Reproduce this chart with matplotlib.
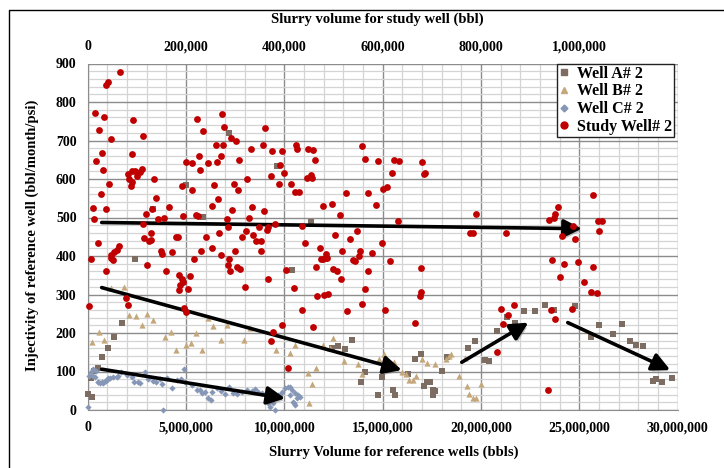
import matplotlib
matplotlib.use("Agg")
import matplotlib.pyplot as plt
import matplotlib.patheffects as pe
from matplotlib.ticker import MultipleLocator, FuncFormatter, FixedLocator
from matplotlib.lines import Line2D
import numpy as np

# ---------------- data ----------------
# Study well: x on top axis (thousand bbl), y injectivity
study_x_k = [65.7,36.6,40.7,14.9,33.8,92.8,23.6,47.4,111.9,29.1,16.3,90.7,31.1,43.3,27.1,11.4,12.2,37.8,82.6,89.5,
             96.2,106.4,111.1,84.6,100.9,88.1,90.7,134.9,138.4,130.2,118,142.4,155.2,165.4,113.1,128.8,115.2,179,191.3,200,
             212.8,228.5,226.4,221.8,235.2,273.9,277.9,291,301.1,260.4,275.9,271.2,245.4,262.5,212.2,257,265.1,252.9,219.7,225,
             193.3,282.8,294.2,297.1,306.4,308.4,324.7,331.6,356,361.3,375.6,394.7,372.3,389.8,398.8,333.7,358.7,328.8,284.8,267.8,
             240.7,313.3,322.1,336.9,349.1,364.8,367.5,381.1,
             21.6,6.7,47.4,54.1,59,64.3,50.9,46.8,37.2,124.7,128.2,120.7,148.5,151.8,171.5,158.7,183.1,185.1,191.3,194.5,
             187.8,186.4,204.7,208.7,215.7,229.9,253.5,270.6,288.1,286.1,288.9,299.7,303.8,310.5,342.4,352.6,352,320,367.5,2.6,
             77.3,81.4,196.5,200,395.3,372.3,377,
             408.1,420.3,403.5,435.4,459,467.2,480.8,489.5,527,558.7,564.2,604.9,615.1,442.1,472.6,484.8,486.3,474,479.3,503.2,
             533.7,518,554,552,539.2,543.8,577.8,598.8,464.5,498.5,506.6,570.3,516,677.5,677.5,676.1,665.9,
             423.8,426.5,448.8,459,462.5,391.3,413.6,421.8,430.5,445.6,453.7,457,525.5,479.4,496.4,513.3,557.5,564.2,569.7,586.6,
             590.7,619.7,601.4,609.6,623.8,634,679.6,684.3,686.9,631.3,790,777.8,783.3,435.4,548.5,
             1028.7,956.3,950.8,948.1,938.6,850.5,965.6,988,1037.6,1045.8,1040.3,991.5,
             944.7,968.5,998.2,1027.5,961.6,1010.2,1023.6,1035.6,839.9,866.9,854.7,844.6,833.4,942,950.4,986,935.9]
study_y = [879,845,851,772,760.6,752.8,727.9,704.6,711.4,667.1,646.4,664.5,623.2,587.9,561,523.9,495.3,523.1,612,620.6,
           620.6,618,626.8,600.9,606.8,581.7,592,600.9,551.6,523.1,508.3,496.1,499.7,526.5,482.4,459.8,446.8,448.7,581.7,644,
           641.3,623.2,660.5,755.4,724.3,768.4,734.7,705.4,698.4,688,687.2,660.5,642.4,643.2,570.5,585.3,548,529.8,507.5,503.9,
           503.1,495.3,519.4,586.1,571.3,648.3,599,677.6,689,732.1,671.7,671.7,607.6,586.9,615.4,527.2,517.9,499.7,474.6,460.9,
           449.4,449.4,465,453.8,476.4,466.8,475.4,484.2,
           434.9,393.4,403.8,410.5,414.9,425.3,389,395,360.5,438.3,442.7,376,412.3,406.4,409.8,360.5,449.4,351.9,341.5,331.2,
           324.2,310.4,313,349.3,391.6,412.3,420.1,403.8,393.4,376.8,361.3,412.3,371.6,366.4,438.3,438.3,412.3,318.2,339,269.7,
           289.7,272.3,265.3,253.4,220.4,178.9,203.6,
           108.1,317.2,364.9,259.3,214.5,296.4,298.2,300.8,256.7,274.1,314.6,259.3,387.2,434.9,420.9,404.6,395,393.4,393.4,453.8,
           445.3,412.3,412.3,400.2,390.8,386.4,409,433.9,371.6,367.5,362.3,362.3,339,369,305.2,296.4,224.8,
           687.2,678.7,678.7,674.3,650.2,635.4,587.9,566.1,566.1,602.4,609.4,603.5,563.5,529.8,536,507.5,686.5,650.9,563.5,531.6,
           646.5,614.6,574.9,578.3,648.3,647.5,644.9,613.8,615.4,492,508.3,459.8,459.1,477.2,464.2,
           557.6,527.2,510.1,499.7,492.7,460.8,452,477.2,490.2,490.2,465,443.5,
           389,378.6,385.1,370.9,344.4,332.7,305.5,303.4,263.2,271.5,247.1,222.3,150.4,259.3,236,263.2,53.2]

# Reference wells: x on bottom axis (million bbl)
wellA_x_m = [7.2,9.61,5.0,3.34,5.88,11.34,2.41,1.73,1.34,1.02,0.74,0.54,0.34,0.15,0.03,0.23,12.09,10.38,12.75,13.09,
             12.41,13.43,14.1,13.9,14.97,15.54,15.63,14.75,16.95,16.63,16.31,17.24,17.41,17.1,17.55,17.67,17.58,18.02,18.26,19.36,
             19.69,20.21,20.43,20.8,21.31,21.73,22.21,22.72,23.25,23.72,24.8,26.02,25.6,26.73,27.19,27.57,27.89,28.25,28.74,28.89,
             29.2,29.72]
wellA_y = [719,635,584,521,501,488,391,225,190,160,138,110,101,84,41,35,392,364,166,158,
           160,183,99,73,87,52,38,38,146,132,93,72,72,62,52,49,40,101,138,160,
           179,130,128,206,242,226,256,258,273,260,271,221,190,198,223,179,169,165,76,80,72,84]

wellB_x_m = [1.17,1.85,2.12,2.44,3.0,2.75,3.34,0.57,0.23,0.83,3.93,4.24,4.48,4.98,5.25,5.51,5.83,6.13,6.39,7.07,
             6.77,7.95,8.26,9.58,10.29,10.56,11.22,11.39,11.61,11.26,12.49,11.95,12.32,13.04,13.75,13.97,14.8,15.09,15.58,15.97,
             16.19,16.33,16.53,16.7,16.99,17.24,17.68,18.21,18.49,19.19,18.89,19.31,19.4,19.61,19.75,20.01,18.35]
wellB_y = [317,320,248,243,250,220,233,203,177,182,190,203,156,170,175,199,157,239,219,222,
           183,182,212,156,147,170,97,67,110,19,186,170,160,128,120,93,132,145,125,98,
           93,77,79,89,132,121,119,132,146,134,89,63,41,32,30,67,139]

wellC_x_m = [0.03,0.17,0.25,0.37,0.51,0.63,0.74,0.88,1.02,1.13,1.30,1.48,1.69,1.98,2.24,2.37,2.57,2.68,2.91,3.08,
             3.34,3.46,3.68,3.79,4.02,4.30,4.53,4.75,4.91,4.95,3.85,5.29,5.54,5.71,5.83,5.97,6.13,6.27,6.31,6.56,
             6.78,6.98,7.19,7.41,7.58,7.83,8.09,8.34,8.51,8.68,8.88,9.16,9.27,9.27,9.44,9.53,9.66,9.78,9.87,10.03,
             10.2,10.38,10.55,10.64,10.5,10.71,10.8,10.29,9.19,9.61,10.29,10.46,10.54,0.08,0.29,0.42,0.54,0.79,0.93,1.05,1.56]
wellC_y = [9,99,88,86,73,69,72,76,80,84,85,86,99,91,86,73,73,69,99,80,
           75,73,80,67,82,58,78,80,106,73,0,65,52,52,43,48,30,26,48,56,
           49,41,60,43,41,48,52,49,55,48,43,43,30,9,17,0,39,39,48,56,
           60,52,43,30,17,39,35,39,19,35,59,22,13,88,106,101,73,71,75,82,88]

# trend arrows (start, end) in bottom-axis units (million bbl, injectivity)
arrows = [((0.71, 487), (25.13, 471)),
          ((0.71, 318), (15.97, 104)),
          ((0.71, 106), (10.04, 30)),
          ((19.02, 124), (22.41, 227)),
          ((24.41, 227), (29.62, 104))]

series_labels = ["Well A# 2", "Well B# 2", "Well C# 2", "Study Well# 2"]
bottom_ticks = [0, 5e6, 10e6, 15e6, 20e6, 25e6, 30e6]
top_ticks = [0, 200000, 400000, 600000, 800000, 1000000]

# ---------------- figure ----------------
W, H = 724, 468
fig = plt.figure(figsize=(W / 100, H / 100), dpi=100)
L, R, B, T = 87.7, 677.7, 410, 63.5
ax = fig.add_axes([L / W, 1 - B / H, (R - L) / W, (B - T) / H])

serif = ['Liberation Serif', 'DejaVu Serif']

ax.set_xlim(0, 30e6)
ax.set_ylim(0, 900)
ax.xaxis.set_major_locator(FixedLocator(bottom_ticks))
ax.xaxis.set_minor_locator(MultipleLocator(1e6))
ax.yaxis.set_major_locator(MultipleLocator(100))
ax.yaxis.set_minor_locator(MultipleLocator(20))
ax.xaxis.set_major_formatter(FuncFormatter(lambda v, p: f"{int(round(v)):,}"))
ax.grid(which='minor', color='#d4d4d4', lw=0.9, zorder=0)
ax.grid(which='major', color='#8c8c8c', lw=1.0, zorder=0)
ax.set_axisbelow(True)
ax.tick_params(which='both', length=0)
ax.tick_params(axis='x', pad=8)
ax.tick_params(axis='y', pad=8)
for lab in ax.get_xticklabels() + ax.get_yticklabels():
    lab.set_fontfamily(serif); lab.set_fontweight('bold'); lab.set_fontsize(10)
for s in ['top', 'right']:
    ax.spines[s].set_visible(False)
ax.spines['left'].set_color('#8c8c8c')
ax.spines['bottom'].set_color('#8c8c8c')

axt = ax.twiny()
axt.set_xlim(0, 1.2e6)
axt.xaxis.set_major_locator(FixedLocator(top_ticks))
axt.xaxis.set_major_formatter(FuncFormatter(lambda v, p: f"{int(round(v)):,}"))
axt.tick_params(which='both', length=0, pad=7.5)
for lab in axt.get_xticklabels():
    lab.set_fontfamily(serif); lab.set_fontweight('bold'); lab.set_fontsize(10)
for s in axt.spines.values():
    s.set_visible(False)

cA, cB, cC, cS = '#7d6c62', '#c4a77b', '#8596b6', '#c00000'
ax.scatter(np.array(wellA_x_m) * 1e6, wellA_y, marker='s', s=13, color=cA, zorder=3, clip_on=False, linewidths=0)
ax.scatter(np.array(wellB_x_m) * 1e6, wellB_y, marker='^', s=20, color=cB, zorder=3, clip_on=False, linewidths=0)
ax.scatter(np.array(wellC_x_m) * 1e6, wellC_y, marker='D', s=10, color=cC, zorder=3, clip_on=False, linewidths=0)
axt.scatter(np.array(study_x_k) * 1e3, study_y, marker='o', s=24, color=cS, zorder=3, clip_on=False, linewidths=0)

for (x0, y0), (x1, y1) in arrows:
    ax.annotate('', xy=(x1 * 1e6, y1), xytext=(x0 * 1e6, y0),
                arrowprops=dict(arrowstyle='-|>,head_length=0.9,head_width=0.45', lw=2.6, color='black',
                                shrinkA=0, shrinkB=0, mutation_scale=12,
                                path_effects=[pe.SimplePatchShadow(offset=(1.5, -2), shadow_rgbFace='#777777', alpha=0.45),
                                              pe.Normal()]),
                zorder=5, annotation_clip=False)

handles = [Line2D([], [], ls='none', marker='s', ms=4, color=cA),
           Line2D([], [], ls='none', marker='^', ms=5, color=cB),
           Line2D([], [], ls='none', marker='D', ms=3.5, color=cC),
           Line2D([], [], ls='none', marker='o', ms=5, color=cS)]
leg = axt.legend(handles, series_labels, loc='upper left', bbox_to_anchor=((557 - L) / (R - L), 1.0),
                 prop=dict(family=serif, weight='bold', size=11.5), frameon=True, fancybox=False,
                 borderpad=0.15, labelspacing=0.1, handlelength=0.6, handletextpad=0.5, borderaxespad=0.0)
leg.get_frame().set_edgecolor('#222222')
leg.get_frame().set_linewidth(1.0)
leg.get_frame().set_alpha(1)
leg.set_zorder(10)

title_font = dict(family=serif, weight='bold', size=10.5)
fig.text(377 / W, 1 - 19 / H, "Slurry volume for study well (bbl)", ha='center', va='center', **title_font)
fig.text(394 / W, 1 - 452 / H, "Slurry Volume for reference wells (bbls)", ha='center', va='center', **title_font)
fig.text(32 / W, 1 - 235 / H, "Injectivity of reference well (bbl/month/psi)", ha='center', va='center',
         rotation=90, **title_font)

# outer frame (left and top edges visible)
fig.add_artist(Line2D([8.5 / W, 8.5 / W, 1.0], [0.0, 1 - 9.5 / H, 1 - 9.5 / H], color='black', lw=1.0,
                      transform=fig.transFigure))

fig.savefig('out.png', dpi=100)
